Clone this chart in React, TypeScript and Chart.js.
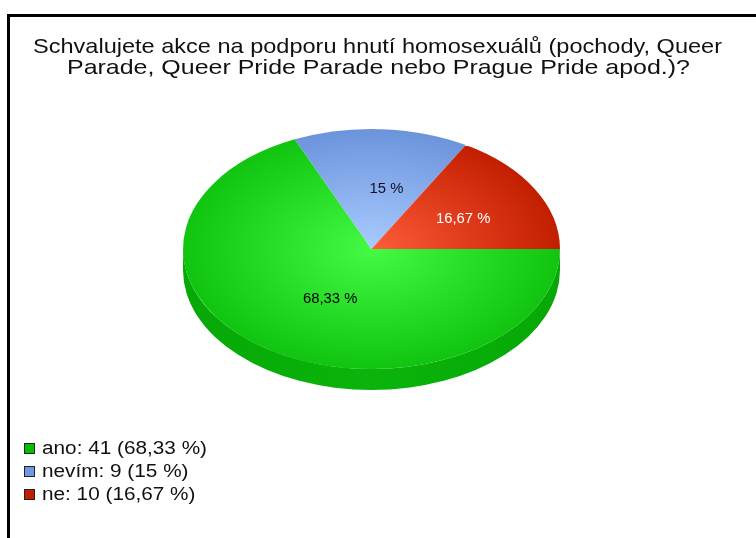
import React, { useEffect, useRef } from "react";
import { Chart, registerables } from "chart.js";

Chart.register(...registerables);

const categories = ["ano", "nevím", "ne"];
const counts = [41, 9, 10];
const percentLabels = ["68,33 %", "15 %", "16,67 %"];
const titleLines = [
  "Schvalujete akce na podporu hnutí homosexuálů (pochody, Queer",
  "Parade, Queer Pride Parade nebo Prague Pride apod.)?",
];

const centerColors = ["#44fa44", "#a9cbff", "#ff5c3a"];
const edgeColors = ["#10c410", "#6c94dc", "#c21e00"];
const sideColors = ["#06a806", "#4a70b8", "#981800"];
const legendColors = ["#00c000", "#7098e0", "#c02000"];
const labelColors = ["#000000", "#10102a", "#ffffff"];

const SQUASH = 120 / 188.5;
const DEPTH = 21;
const FONT = "'Liberation Sans', Arial, sans-serif";

function stretchedText(ctx: any, text: string, x: number, y: number, targetWidth: number, align: string) {
  const w = ctx.measureText(text).width;
  const sx = targetWidth / w;
  ctx.save();
  ctx.translate(x, y);
  ctx.scale(sx, 1);
  ctx.textAlign = align;
  ctx.fillText(text, 0, 0);
  ctx.restore();
}

const pie3d = {
  id: "pie3d",
  beforeDatasetsDraw(chart: any) {
    const ctx = chart.ctx;
    const meta = chart.getDatasetMeta(0);
    const a0 = meta.data[0];
    const cx = a0.x;
    const cy = a0.y;
    ctx.save();
    ctx.translate(cx, cy);
    ctx.scale(1, SQUASH);
    ctx.translate(-cx, -cy);
    const dT = DEPTH / SQUASH;
    meta.data.forEach((arc: any, i: number) => {
      const r = arc.outerRadius;
      for (let k = -1; k <= 1; k++) {
        const lo = Math.max(arc.startAngle, 2 * Math.PI * k);
        const hi = Math.min(arc.endAngle, 2 * Math.PI * k + Math.PI);
        if (hi > lo) {
          const g = ctx.createLinearGradient(cx - r, 0, cx + r, 0);
          g.addColorStop(0, sideColors[i]);
          g.addColorStop(0.5, i === 0 ? "#0ab40a" : sideColors[i]);
          g.addColorStop(1, sideColors[i]);
          ctx.beginPath();
          ctx.arc(cx, cy, r, lo, hi);
          ctx.arc(cx, cy + dT, r, hi, lo, true);
          ctx.closePath();
          ctx.fillStyle = g;
          ctx.fill();
        }
      }
    });
  },
  afterDatasetsDraw(chart: any) {
    const ctx = chart.ctx;
    ctx.restore();
    const meta = chart.getDatasetMeta(0);
    ctx.save();
    ctx.font = `14px ${FONT}`;
    ctx.textBaseline = "middle";
    meta.data.forEach((arc: any, i: number) => {
      const mid = (arc.startAngle + arc.endAngle) / 2;
      const f = 0.5;
      const x = arc.x + 10 + Math.cos(mid) * arc.outerRadius * f;
      const y = arc.y + Math.sin(mid) * arc.outerRadius * f * SQUASH;
      ctx.fillStyle = labelColors[i];
      const w = ctx.measureText(percentLabels[i]).width * 1.06;
      stretchedText(ctx, percentLabels[i], x, y, w, "center");
    });
    ctx.restore();
  },
  afterDraw(chart: any) {
    const ctx = chart.ctx;
    ctx.save();
    ctx.fillStyle = "#111111";
    ctx.font = `21px ${FONT}`;
    ctx.textBaseline = "middle";
    stretchedText(ctx, titleLines[0], 377.5, 47, 689, "center");
    stretchedText(ctx, titleLines[1], 378.5, 68, 623, "center");
    ctx.font = `18px ${FONT}`;
    const legendWidths = [165, 146, 156];
    categories.forEach((c, i) => {
      const y = 448.5 + i * 23;
      ctx.fillStyle = legendColors[i];
      ctx.fillRect(24, y - 5.5, 11, 11);
      ctx.strokeStyle = "#222";
      ctx.lineWidth = 1;
      ctx.strokeRect(24.5, y - 5, 10, 10);
      ctx.fillStyle = "#111111";
      const t = `${c}: ${counts[i]} (${percentLabels[i]})`;
      const w = ctx.measureText(t).width * (legendWidths[0] / ctx.measureText(`${categories[0]}: ${counts[0]} (${percentLabels[0]})`).width);
      stretchedText(ctx, t, 42, y + 1, w, "left");
    });
    ctx.restore();
  },
};

export default function App() {
  const ref = useRef<HTMLCanvasElement | null>(null);
  useEffect(() => {
    if (!ref.current) return;
    const chart = new Chart(ref.current, {
      type: "pie",
      data: {
        labels: categories,
        datasets: [
          {
            data: counts,
            borderWidth: 0,
            backgroundColor: (c: any) => {
              const chart = c.chart;
              const a = chart.chartArea;
              if (!a) return edgeColors[c.dataIndex];
              const cx = (a.left + a.right) / 2;
              const cy = (a.top + a.bottom) / 2;
              const r = Math.min(a.right - a.left, a.bottom - a.top) / 2;
              const g = chart.ctx.createRadialGradient(cx, cy, 0, cx, cy, r);
              g.addColorStop(0, centerColors[c.dataIndex]);
              g.addColorStop(1, edgeColors[c.dataIndex]);
              return g;
            },
          },
        ],
      },
      options: {
        responsive: false,
        animation: false,
        events: [],
        rotation: 90,
        layout: { padding: { left: 183, right: 196, top: 60.5, bottom: 100.5 } },
        plugins: {
          legend: { display: false },
          title: { display: false },
          tooltip: { enabled: false },
        },
      },
      plugins: [pie3d],
    });
    return () => chart.destroy();
  }, []);
  return (
    <div style={{ position: "absolute", left: 0, top: 0, width: 756, height: 538, overflow: "hidden", background: "#fff" }}>
      <div
        style={{
          position: "absolute",
          left: 7,
          top: 14,
          width: 800,
          height: 600,
          borderLeft: "3px solid #000",
          borderTop: "3px solid #000",
        }}
      />
      <canvas ref={ref} width={756} height={538} style={{ position: "absolute", left: 0, top: 0 }} />
    </div>
  );
}
